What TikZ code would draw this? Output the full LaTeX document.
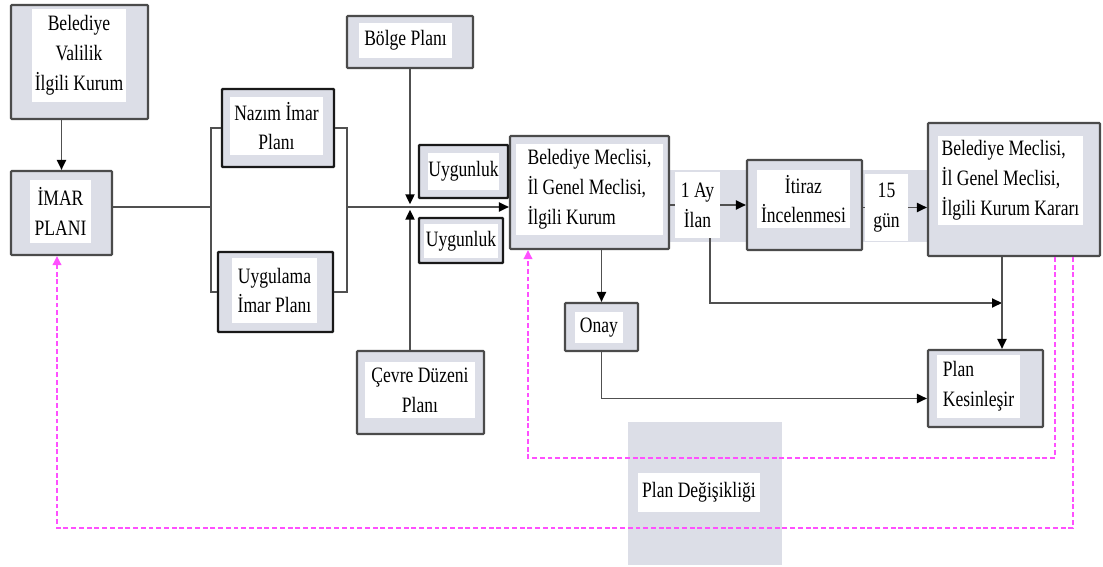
\documentclass[tikz,border=0pt]{standalone}
\usepackage{fontspec}
\setmainfont{Liberation Serif}[FakeStretch=0.8]
\usetikzlibrary{arrows.meta}

\definecolor{boxgray}{RGB}{220,222,231}
\definecolor{edgegray}{RGB}{75,75,75}
\definecolor{linegray}{RGB}{80,80,80}
\definecolor{loopmag}{RGB}{255,80,255}

\begin{document}
\begin{tikzpicture}[
    x=0.02cm, y=-0.02cm,
    box/.style={draw=edgegray, line width=1.2pt, fill=boxgray, rounded corners=0.5pt, inner sep=0pt},
    darkbox/.style={box, draw=black!90, line width=1.4pt},
    txt/.style={fill=white, inner sep=0pt, align=center, font=\fontsize{12.5}{17}\selectfont},
    band/.style={fill=boxgray, inner sep=0pt},
    line/.style={draw=linegray, line width=1.1pt},
    link/.style={line, -{Triangle[length=2mm, width=1.8mm, color=black]}},
    back/.style={draw=loopmag, line width=1.1pt, dash pattern=on 2.8pt off 1.6pt, -{Triangle[length=1.8mm, width=1.7mm]}}
]
\useasboundingbox (0,0) rectangle (1103,567);

% gray bands behind the small labels
\node[band, minimum width=1.54cm, minimum height=1.44cm] (ilanband) at (708.5,206) {};
\node[band, minimum width=1.32cm, minimum height=1.44cm] (gunband) at (895,206) {};
\node[band, minimum width=3.08cm, minimum height=2.86cm] (degisband) at (705,493.5) {};

% boxes
\node[box, minimum width=2.74cm, minimum height=2.28cm] (valilik) at (79.5,62) {};
\node[txt, minimum width=1.88cm, minimum height=1.86cm] (valiliktxt) at (79,55.5) {Belediye\\Valilik\\İlgili Kurum};
\node[box, minimum width=2.02cm, minimum height=1.68cm] (imar) at (61.5,213) {};
\node[txt, minimum width=1.22cm, minimum height=1.26cm] (imartxt) at (60.5,211.5) {İMAR\\PLANI};
\node[darkbox, minimum width=2.24cm, minimum height=1.56cm] (nazim) at (278,128) {};
\node[txt, minimum width=1.86cm, minimum height=1.16cm] (nazimtxt) at (276.5,126) {Nazım İmar\\Planı};
\node[darkbox, minimum width=2.30cm, minimum height=1.60cm] (uygulama) at (275.5,292) {};
\node[txt, minimum width=1.70cm, minimum height=1.30cm] (uygulamatxt) at (274.5,290.5) {Uygulama\\İmar Planı};
\node[box, minimum width=2.52cm, minimum height=1.04cm] (bolge) at (410,42) {};
\node[txt, minimum width=1.86cm, minimum height=0.70cm] (bolgetxt) at (405.5,40.5) {Bölge Planı};
\node[box, minimum width=2.54cm, minimum height=1.66cm] (cevre) at (420.5,392.5) {};
\node[txt, minimum width=2.20cm, minimum height=1.12cm] (cevretxt) at (420,390) {Çevre Düzeni\\Planı};
\node[darkbox, minimum width=1.78cm, minimum height=1.06cm] (uygun1) at (463.5,171.5) {};
\node[txt, minimum width=1.42cm, minimum height=0.74cm] (uygun1txt) at (463.5,171.5) {Uygunluk};
\node[darkbox, minimum width=1.68cm, minimum height=0.90cm] (uygun2) at (461,240.5) {};
\node[txt, minimum width=1.50cm, minimum height=0.70cm] (uygun2txt) at (461,241) {Uygunluk};
\node[box, minimum width=3.18cm, minimum height=2.26cm] (bel1) at (589.5,192.5) {};
\node[txt, align=left, minimum width=2.94cm, minimum height=1.82cm] (bel1txt) at (589.5,189.5) {Belediye Meclisi,\\İl Genel Meclisi,\\İlgili Kurum};
\node[txt, minimum width=0.90cm, minimum height=1.32cm] (ilan) at (697.5,205) {1 Ay\\İlan};
\node[box, minimum width=2.30cm, minimum height=1.80cm] (itiraz) at (804.5,205) {};
\node[txt, minimum width=1.86cm, minimum height=1.18cm] (itiraztxt) at (803.5,199) {İtiraz\\İncelenmesi};
\node[txt, minimum width=0.86cm, minimum height=1.34cm] (gun) at (886.5,207.5) {15\\gün};
\node[box, minimum width=3.44cm, minimum height=2.66cm] (bel2) at (1014,189.5) {};
\node[txt, align=left, minimum width=2.90cm, minimum height=1.78cm] (bel2txt) at (1010.5,180.5) {Belediye Meclisi,\\İl Genel Meclisi,\\İlgili Kurum Kararı};
\node[box, minimum width=1.46cm, minimum height=0.96cm] (onay) at (601.5,327) {};
\node[txt, minimum width=0.96cm, minimum height=0.62cm] (onaytxt) at (599,327.5) {Onay};
\node[box, minimum width=2.30cm, minimum height=1.54cm] (kesin) at (985.5,388.5) {};
\node[txt, align=left, minimum width=1.66cm, minimum height=1.26cm] (kesintxt) at (978.5,386.5) {Plan\\Kesinleşir};
\node[txt, minimum width=2.44cm, minimum height=0.78cm] (degis) at (699,492.5) {Plan Değişikliği};

% junction points
\coordinate (brL) at (211,207);
\coordinate (brR) at (347,207);
\coordinate (junc) at (410,207);
\coordinate (kx) at (1002,303);
\coordinate (inA) at (1055,458);
\coordinate (inB) at (528,458);
\coordinate (outA) at (1073,528);
\coordinate (outB) at (57,528);

% connectors
\draw[link] (imar |- valilik.south) -- (imar);
\draw[line] (imar.east |- brL) -- (brL);
\draw[line] (nazim.west) -| (brL) |- (uygulama.west);
\draw[line] (nazim.east) -| (brR) |- (uygulama.east);
\draw[link] (brR) -- (bel1.west |- brR);
\draw[link, shorten >=1.5pt] (bolge) -- (junc);
\draw[link, shorten >=1.5pt] (cevre.north -| junc) -- (junc);
\draw[line] (bel1.east |- ilan) -- (ilan);
\draw[link] (ilan) -- (itiraz.west |- ilan);
\draw[line] (itiraz.east |- gun) -- (gun);
\draw[link] (gun) -- (bel2.west |- gun);
\draw[link] (bel1.south -| onay) -- (onay);
\draw[link] (onay) |- ([yshift=-0.2cm]kesin.west);
\draw[link] ([xshift=0.25cm]ilan.south) |- (kx);
\draw[link] (bel2.south -| kx) -- (kesin.north -| kx);

% change loops
\draw[back] (bel2.south -| inA) -- (inA) -- (inB) -- (bel1.south -| inB);
\draw[back] (bel2.south -| outA) -- (outA) -- (outB) -- (imar.south -| outB);
\end{tikzpicture}
\end{document}
